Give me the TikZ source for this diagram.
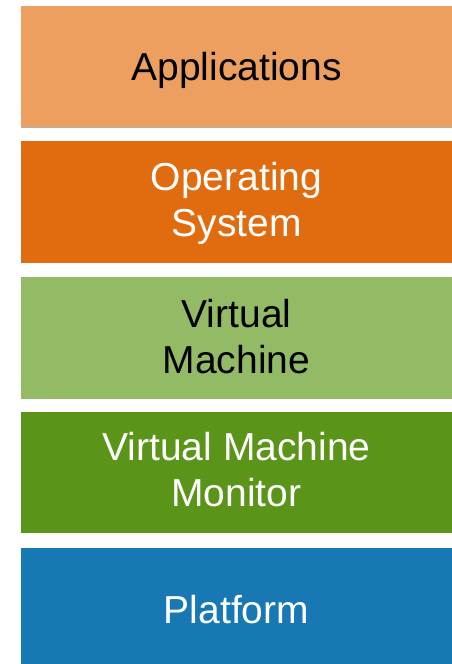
\documentclass[tikz,border=0pt]{standalone}
\usepackage{fontspec}
\setmainfont{Liberation Sans}
\definecolor{appc}{HTML}{EC9F5E}
\definecolor{osc}{HTML}{E16C10}
\definecolor{vmc}{HTML}{93BA64}
\definecolor{vmmc}{HTML}{5A9519}
\definecolor{platc}{HTML}{1878B4}
\begin{document}
\begin{tikzpicture}[x=1pt,y=-1pt,
  layer/.style={inner sep=0pt, outer sep=0pt, align=center,
    font=\fontsize{39}{46}\selectfont}]
\useasboundingbox (0,0) rectangle (452,664);
% stacked layers, top to bottom
\fill[appc]  (21,6)   rectangle (452,128);
\draw[gray!60, line width=1pt] (21,127.5) -- (452,127.5);
\fill[osc]   (21,141) rectangle (452,263);
\fill[vmc]   (21,277) rectangle (452,399);
\fill[vmmc]  (21,412) rectangle (452,533);
\fill[platc] (21,548) rectangle (452,664);
\node[layer, text=black] (app)  at (236.5,70)  {Applications};
\node[layer, text=white] (os)   at (236.5,203) {Operating\\System};
\node[layer, text=black] (vm)   at (236.5,337) {Virtual\\Machine};
\node[layer, text=white] (vmm)  at (236.5,470) {Virtual Machine\\Monitor};
\node[layer, text=white] (plat) at (236.5,610) {Platform};
\end{tikzpicture}
\end{document}
